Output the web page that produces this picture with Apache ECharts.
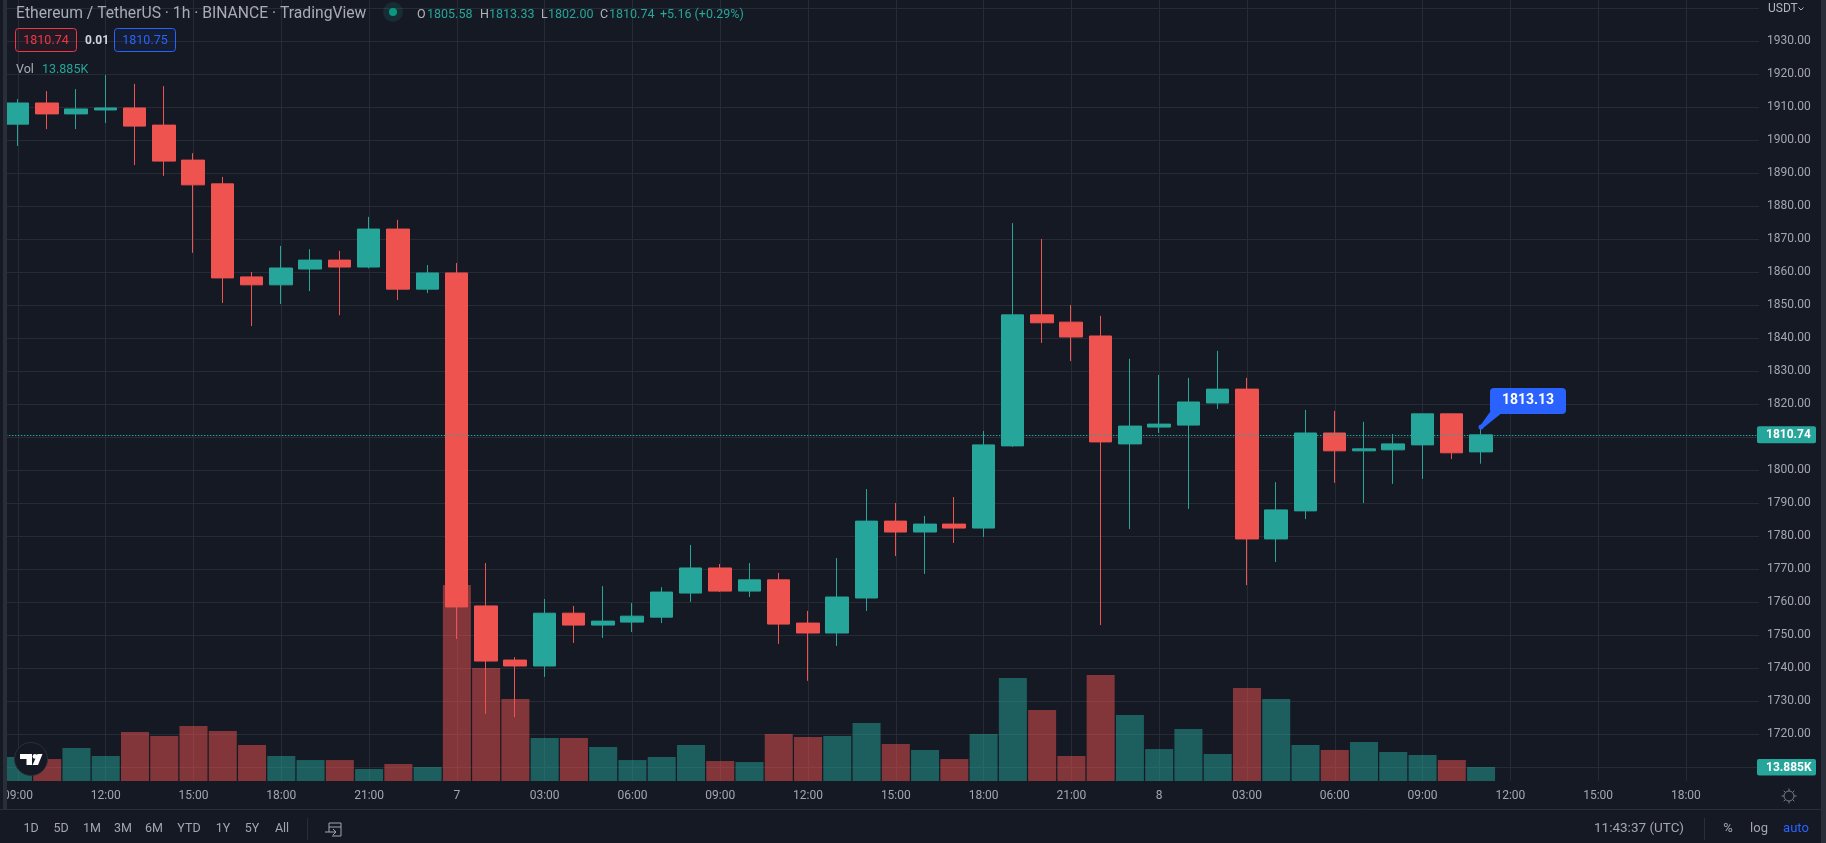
<!DOCTYPE html>
<html>
<head>
<meta charset="utf-8">
<title>ETH/USDT 1h</title>
<script src="https://cdn.jsdelivr.net/npm/echarts@6/dist/echarts.min.js"></script>
<style>
  html, body { margin: 0; padding: 0; background: #151924; }
  #main { width: 1826px; height: 843px; }
</style>
</head>
<body>
<div id="main"></div>
<script>
const categories = [
  '09:00','10:00','11:00','12:00','13:00','14:00','15:00','16:00','17:00','18:00','19:00','20:00','21:00','22:00','23:00',
  '7','01:00','02:00','03:00','04:00','05:00','06:00','07:00','08:00','09:00','10:00','11:00','12:00','13:00','14:00',
  '15:00','16:00','17:00','18:00','19:00','20:00','21:00','22:00','23:00',
  '8','01:00','02:00','03:00','04:00','05:00','06:00','07:00','08:00','09:00','10:00','11:00','12:00','13:00','14:00',
  '15:00','16:00','17:00','18:00','19:00','20:00'
];
const opens = [
  1904.9,1911.3,1908.0,1909.2,1909.8,1904.6,1894.0,1886.8,1858.6,1856.2,1861.0,1863.7,1861.6,1873.1,1854.9,
  1859.8,1758.9,1742.5,1740.7,1756.7,1753.1,1754.0,1755.5,1762.8,1770.4,1763.4,1766.8,1753.7,1750.7,1761.3,
  1784.6,1781.3,1783.7,1782.5,1807.4,1847.1,1844.9,1840.7,1808.0,1813.1,1813.7,1820.4,1824.6,1779.2,1787.7,
  1811.3,1805.9,1806.2,1807.7,1817.1,1805.58
];
const closes = [
  1911.3,1908.0,1909.5,1909.8,1904.3,1893.7,1886.5,1858.3,1856.2,1861.3,1863.7,1861.6,1873.1,1854.9,1859.8,
  1758.6,1742.2,1740.7,1756.7,1753.1,1754.3,1755.8,1763.1,1770.4,1763.4,1766.8,1753.4,1750.7,1761.6,1784.6,
  1781.3,1783.7,1782.5,1807.7,1847.1,1844.7,1840.4,1808.6,1813.4,1814.0,1820.7,1824.6,1779.2,1788.0,1811.3,
  1805.9,1806.5,1808.0,1817.1,1805.3,1810.74
];
const lows = [
  1898.3,1903.4,1903.4,1905.2,1892.5,1889.2,1865.9,1850.7,1843.7,1850.4,1854.3,1847.0,1861.2,1851.6,1853.7,
  1748.9,1726.2,1725.2,1737.4,1747.7,1749.2,1751.0,1753.7,1760.1,1763.1,1761.6,1747.4,1736.2,1746.8,1757.4,
  1774.0,1768.6,1778.0,1779.8,1807.1,1838.6,1833.1,1753.1,1782.2,1811.3,1788.3,1818.6,1765.2,1772.2,1785.2,
  1796.2,1790.1,1795.9,1797.4,1803.4,1802.00
];
const highs = [
  1912.5,1914.9,1915.5,1919.8,1917.1,1916.4,1896.1,1888.9,1860.1,1868.0,1867.0,1866.5,1876.8,1875.9,1862.2,
  1862.8,1771.9,1743.4,1761.0,1758.9,1764.9,1759.8,1764.6,1777.4,1771.6,1771.9,1768.9,1757.4,1773.4,1794.3,
  1790.1,1786.2,1791.9,1811.9,1874.9,1870.1,1850.1,1846.8,1833.8,1828.9,1828.0,1836.2,1828.0,1796.4,1818.3,
  1818.0,1814.7,1811.0,1817.1,1817.1,1813.33
];
// volume in K
const volumes = [
  23.8,21.8,32.7,24.8,48.6,44.6,54.6,49.6,35.7,24.8,20.8,20.8,11.9,16.9,13.9,
  194.4,112.1,81.3,42.7,42.7,33.7,20.8,23.8,35.7,19.8,18.8,46.6,43.6,44.6,57.5,
  36.7,30.8,21.8,46.6,102.2,70.4,24.8,105.2,65.5,31.7,51.6,26.8,92.3,81.3,35.7,
  30.8,38.7,28.8,25.8,20.8,13.885
];
const lastPrice = 1810.74;
const lastHigh = 1813.13;
const rangeButtons = ['1D','5D','1M','3M','6M','YTD','1Y','5Y','All'];

const UP = '#26a69a';
const DOWN = '#ef5350';
const BG = '#151924';
const GRID = '#272b36';
const TEXT = '#a3a6af';
const FONT = 'Roboto, sans-serif';

const chart = echarts.init(document.getElementById('main'));

const candleData = opens.map((o, i) => [o, closes[i], lows[i], highs[i]]);
const volumeData = volumes.map((v, i) => ({
  value: v,
  itemStyle: { color: closes[i] >= opens[i] ? 'rgba(38,166,154,0.5)' : 'rgba(239,83,80,0.5)' }
}));

chart.setOption({
  animation: false,
  backgroundColor: BG,
  textStyle: { fontFamily: FONT },
  grid: [
    { left: 2.87, width: 1756.2, top: 8.3, height: 792 },
    { left: 2.87, width: 1756.2, top: 0, height: 781 }
  ],
  xAxis: [
    {
      type: 'category', gridIndex: 0, data: categories,
      axisLine: { show: false }, axisTick: { show: false }, axisLabel: { show: false }, splitLine: { show: false }
    },
    {
      type: 'category', gridIndex: 1, data: categories,
      axisLine: { show: false }, axisTick: { show: false },
      axisLabel: { interval: 2, color: TEXT, fontSize: 12, margin: 9, fontFamily: FONT },
      splitLine: { show: true, interval: 2, alignWithLabel: true, lineStyle: { color: GRID, width: 1 } }
    }
  ],
  yAxis: [
    {
      type: 'value', gridIndex: 0, position: 'right', min: 1700, max: 1940, interval: 10,
      axisLine: { show: false }, axisTick: { show: false },
      axisLabel: {
        color: TEXT, fontSize: 12, margin: 8, fontFamily: FONT, padding: [3, 0, 0, 0],
        formatter: v => (v > 1930 || v < 1720) ? '' : v.toFixed(2)
      },
      splitLine: { show: true, showMinLine: false, lineStyle: { color: GRID, width: 1 } }
    },
    {
      type: 'value', gridIndex: 1, min: 0, max: 775,
      axisLine: { show: false }, axisTick: { show: false }, axisLabel: { show: false }, splitLine: { show: false }
    }
  ],
  series: [
    {
      name: 'Vol', type: 'bar', xAxisIndex: 1, yAxisIndex: 1, data: volumeData, barWidth: 28, z: 1, silent: true
    },
    {
      name: 'ETHUSDT', type: 'candlestick', xAxisIndex: 0, yAxisIndex: 0, data: candleData, barWidth: 23, z: 2,
      itemStyle: {
        color: UP, color0: DOWN, borderColor: UP, borderColor0: DOWN, borderColorDoji: UP, borderWidth: 1
      },
      markLine: {
        silent: true, symbol: 'none', animation: false, z: 3,
        label: { show: false },
        lineStyle: { color: UP, type: [1.5, 1.5], width: 1 },
        data: [{ yAxis: lastPrice }]
      }
    }
  ]
});

// 叠加层: 标题栏、价格标签、底部工具栏
const text = (x, y, str, fill, opts = {}) => ({
  type: 'text', x, y, z: 110,
  style: {
    text: str, fill, font: `${opts.bold ? 'bold ' : ''}${opts.size || 12.5}px ${FONT}`,
    align: opts.align || 'left', verticalAlign: 'middle'
  }
});
const rect = (x, y, width, height, style, r) => ({
  type: 'rect', z: 105, shape: { x, y, width, height, r: r || 0 }, style
});
const line = (x1, y1, x2, y2, stroke, lineWidth = 1) => ({
  type: 'line', z: 105, shape: { x1, y1, x2, y2 }, style: { stroke, lineWidth }
});

const lastPos = chart.convertToPixel({ xAxisIndex: 0, yAxisIndex: 0 }, [opens.length - 1, lastHigh]);
const lastY = chart.convertToPixel({ yAxisIndex: 0 }, lastPrice);
const volY = chart.convertToPixel({ yAxisIndex: 1 }, volumes[volumes.length - 1]);
const bx = lastPos[0] + 9;
const by = lastPos[1] - 39;

const gearTicks = [];
for (let a = 0; a < 8; a++) {
  const t = a * Math.PI / 4;
  gearTicks.push(line(1789 + Math.cos(t) * 5, 796 + Math.sin(t) * 5, 1789 + Math.cos(t) * 7.5, 796 + Math.sin(t) * 7.5, '#787b86'));
}
const rangeX = [31, 61, 92, 123, 154, 189, 223, 252, 282];

const overlays = [
  // left strip and right strip
  rect(0, 0, 3, 843, { fill: BG }),
  rect(3, 0, 4, 809, { fill: '#2a2e39' }),
  rect(1821, 0, 5, 843, { fill: '#2a2e39' }),
  line(0, 809.5, 1821, 809.5, '#2a2e39'),
  rect(0, 810, 1821, 33, { fill: BG }),

  // header
  { type: 'circle', z: 105, shape: { cx: 393, cy: 12, r: 10 }, style: { fill: 'rgba(38,166,154,0.14)' } },
  { type: 'circle', z: 106, shape: { cx: 393, cy: 12, r: 4 }, style: { fill: '#089981' } },
  text(16, 14.5, 'Ethereum / TetherUS · 1h · BINANCE · TradingView', '#a9acb5', { size: 15.7 }),
  text(417, 15, 'O', '#b2b5be'), text(427, 15, '1805.58', UP),
  text(480, 15, 'H', '#b2b5be'), text(489, 15, '1813.33', UP),
  text(541, 15, 'L', '#b2b5be'), text(548, 15, '1802.00', UP),
  text(600, 15, 'C', '#b2b5be'), text(609, 15, '1810.74', UP),
  text(660, 15, '+5.16 (+0.29%)', UP),
  rect(15.5, 28.5, 61, 23, { fill: 'rgba(242,54,69,0.06)', stroke: '#f23645', lineWidth: 1 }, 3),
  text(46, 40.5, '1810.74', '#f23645', { align: 'center' }),
  text(85, 40.5, '0.01', '#d1d4dc', { bold: true, size: 12 }),
  rect(114.5, 28.5, 61, 23, { fill: 'rgba(41,98,255,0.06)', stroke: '#2962ff', lineWidth: 1 }, 3),
  text(145, 40.5, '1810.75', '#2962ff', { align: 'center' }),
  text(16, 69.5, 'Vol', '#a9acb5'),
  text(42, 69.5, '13.885K', UP),

  // currency
  text(1768, 9, 'USDT', '#b2b5be', { size: 12 }),
  { type: 'polyline', z: 105, shape: { points: [[1798.5, 7.5], [1801, 10], [1803.5, 7.5]] }, style: { stroke: '#b2b5be', fill: null, lineWidth: 1 } },

  // last price and volume tags
  rect(1757, lastY - 8.5, 59, 17, { fill: UP }, 2),
  text(1766, lastY + 0.5, lastPrice.toFixed(2), '#ffffff', { bold: true, size: 12 }),
  rect(1757, volY - 8, 59, 16.5, { fill: UP }, 2),
  text(1766, volY + 0.5, '13.885K', '#ffffff', { bold: true, size: 12 }),

  // high bubble
  {
    type: 'polygon', z: 105,
    shape: { points: [[lastPos[0] - 1, lastPos[1] - 1], [bx, by + 24], [bx + 13, by + 24], [lastPos[0] + 1.5, lastPos[1] + 1.5]] },
    style: { fill: '#2962ff' }
  },
  { type: 'circle', z: 106, shape: { cx: lastPos[0], cy: lastPos[1], r: 2.5 }, style: { fill: '#2962ff' } },
  rect(bx, by, 76, 26, { fill: '#2962ff' }, 4),
  text(bx + 38, by + 13, lastHigh.toFixed(2), '#ffffff', { align: 'center', bold: true, size: 14 }),

  // logo
  { type: 'circle', z: 105, shape: { cx: 31, cy: 759, r: 16.5 }, style: { fill: BG, stroke: '#2a2e39', lineWidth: 1 } },
  { type: 'polygon', z: 106, shape: { points: [[20, 754], [32, 754], [32, 765], [26.5, 765], [26.5, 759], [20, 759]] }, style: { fill: '#ffffff' } },
  { type: 'circle', z: 106, shape: { cx: 35, cy: 756.4, r: 2.4 }, style: { fill: '#ffffff' } },
  { type: 'polygon', z: 106, shape: { points: [[37.5, 754], [42.5, 754], [38, 765], [32.5, 765]] }, style: { fill: '#ffffff' } },

  // gear
  { type: 'circle', z: 105, shape: { cx: 1789, cy: 796, r: 5 }, style: { fill: null, stroke: '#787b86', lineWidth: 1 } },
  ...gearTicks,

  // bottom toolbar
  ...rangeButtons.map((b, i) => text(rangeX[i], 829, b, TEXT, { align: 'center' })),
  line(307.5, 818, 307.5, 840, '#2a2e39'),
  { type: 'polyline', z: 105, shape: { points: [[329, 832], [329, 823], [341, 823], [341, 836], [332, 836]] }, style: { stroke: '#a3a6af', fill: null, lineWidth: 1 } },
  line(329, 827, 341, 827, '#a3a6af'),
  line(325, 832, 336, 832, '#a3a6af'),
  { type: 'polyline', z: 105, shape: { points: [[333, 829], [336, 832], [333, 835]] }, style: { stroke: '#a3a6af', fill: null, lineWidth: 1 } },
  text(1594, 829, '11:43:37 (UTC)', TEXT, { size: 13.5 }),
  line(1704.5, 818, 1704.5, 840, '#2a2e39'),
  text(1728, 829, '%', TEXT, { align: 'center', size: 13 }),
  text(1759, 829, 'log', TEXT, { align: 'center', size: 13 }),
  text(1796, 829, 'auto', '#2962ff', { align: 'center', size: 13 })
];

chart.setOption({ graphic: { elements: overlays } });

window.addEventListener('resize', () => chart.resize());
</script>
</body>
</html>
